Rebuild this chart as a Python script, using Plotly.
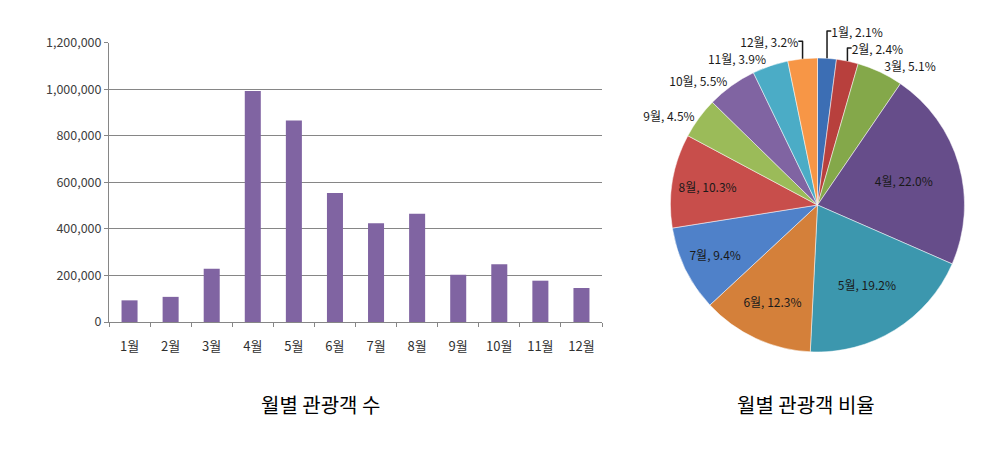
import plotly.graph_objects as go

months = ["1월", "2월", "3월", "4월", "5월", "6월", "7월", "8월", "9월", "10월", "11월", "12월"]
visitors = [93000, 108000, 229000, 992000, 866000, 554000, 424000, 465000, 203000, 248000, 177500, 146000]
y_ticks = [0, 200000, 400000, 600000, 800000, 1000000, 1200000]
y_tick_text = ["0", "200,000", "400,000", "600,000", "800,000", "1,000,000", "1,200,000"]
pie_colors = ["#3C6EB4", "#B8403D", "#84A84A", "#664D8A", "#3C97AE", "#D4803A",
              "#4F81C9", "#C84E4B", "#9BBB59", "#8064A2", "#4BACC6", "#F79646"]
pie_positions = ["outside", "outside", "outside", "inside", "inside", "inside",
                 "inside", "inside", "outside", "outside", "outside", "outside"]
title_left = "월별 관광객 수"
title_right = "월별 관광객 비율"

W, H = 997, 456
OFF = 8  # page offset of the plot div


def px_x(p):
    return (p - OFF) / W


def px_y(p):
    return (H - (p - OFF)) / H


fig = go.Figure()

fig.add_trace(go.Bar(
    x=months, y=visitors, marker=dict(color="#8064A2", line=dict(width=0)),
    xaxis="x", yaxis="y", showlegend=False, hoverinfo="x+y",
))

fig.add_trace(go.Pie(
    labels=months, values=visitors, sort=False, direction="clockwise", rotation=0,
    marker=dict(colors=pie_colors, line=dict(color="#FFFFFF", width=0.5)),
    texttemplate="%{label}, %{percent:.1%}", textposition=pie_positions,
    insidetextorientation="horizontal",
    textfont=dict(family="Noto Sans CJK KR", size=12, color="#1A1A1A"),
    domain=dict(x=[px_x(670.5), px_x(964.5)], y=[px_y(352), px_y(58)]),
    showlegend=False, automargin=False,
))

fig.update_layout(
    template="none",
    width=W, height=H,
    margin=dict(l=0, r=0, t=0, b=0, pad=0),
    paper_bgcolor="white", plot_bgcolor="white",
    font=dict(family="Noto Sans CJK KR", size=12, color="#404040"),
    bargap=0.61,
    xaxis=dict(
        domain=[px_x(109), px_x(602)], anchor="y", automargin=False,
        showline=True, linecolor="#868686", linewidth=1,
        ticks="outside", tickson="boundaries", ticklen=4, tickcolor="#868686",
        ticklabelstandoff=12,
        tickfont=dict(size=13, color="#303030"), showgrid=False,
    ),
    yaxis=dict(
        domain=[px_y(322), px_y(42.7)], anchor="x", automargin=False,
        range=[0, 1200000], tickvals=y_ticks, ticktext=y_tick_text,
        showline=True, linecolor="#868686", linewidth=1,
        ticks="outside", ticklen=4, tickcolor="#868686",
        showgrid=True, gridcolor="#868686", gridwidth=1,
        tickfont=dict(size=12.5, color="#404040"), zeroline=False,
    ),
    annotations=[
        dict(text=title_left, x=px_x(320), y=px_y(404), xref="paper", yref="paper",
             xanchor="center", yanchor="middle",
             showarrow=False, font=dict(family="Noto Sans CJK KR", size=20, color="#000000")),
        dict(text=title_right, x=px_x(806), y=px_y(404), xref="paper", yref="paper",
             xanchor="center", yanchor="middle",
             showarrow=False, font=dict(family="Noto Sans CJK KR", size=20, color="#000000")),
    ],
)

fig.write_html("out.html")
